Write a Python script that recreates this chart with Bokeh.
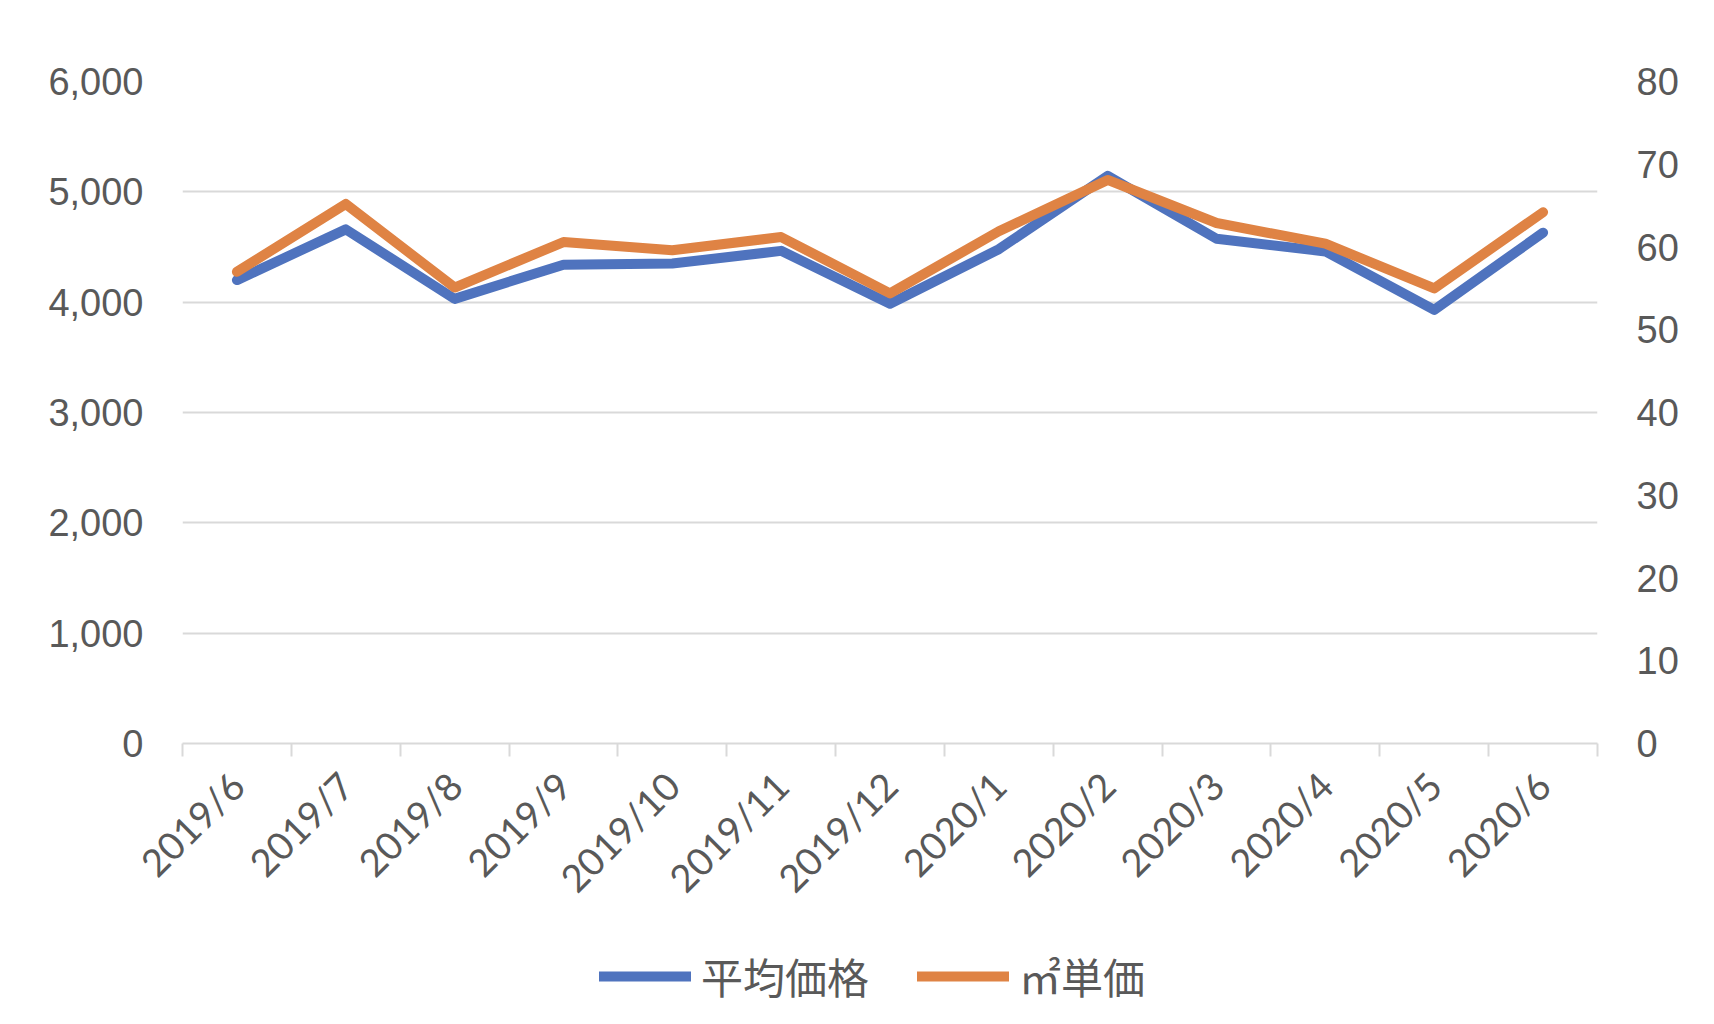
from math import pi
from bokeh.plotting import figure
from bokeh.layouts import column
from bokeh.models import (Range1d, LinearAxis, FixedTicker, Legend, LegendItem,
                          NumeralTickFormatter, CustomJSTickFormatter)
from bokeh.embed import file_html
from bokeh.resources import INLINE

months = ["2019/6", "2019/7", "2019/8", "2019/9", "2019/10", "2019/11", "2019/12",
          "2020/1", "2020/2", "2020/3", "2020/4", "2020/5", "2020/6"]
avg_price = [4200, 4660, 4030, 4340, 4350, 4465, 3985, 4480, 5145, 4575, 4460, 3930, 4630]
unit_price = [57.0, 65.2, 55.1, 60.6, 59.6, 61.2, 54.4, 61.9, 68.1, 62.9, 60.4, 55.0, 64.2]
left_ticks = [0, 1000, 2000, 3000, 4000, 5000, 6000]
right_ticks = [0, 10, 20, 30, 40, 50, 60, 70, 80]
series_names = ["平均価格", "㎡単価"]

BLUE = "#4F73BE"
ORANGE = "#DF8344"
GRID = "#d9d9d9"
TEXT = "#595959"

x_pos = [i + 0.5 for i in range(len(months))]

MAIN_H = 930
FRAME_LEFT = 182
p = figure(width=1714, height=MAIN_H, output_backend="svg", toolbar_location=None,
           x_range=Range1d(0, len(months)), y_range=Range1d(left_ticks[0], left_ticks[-1]),
           min_border_left=FRAME_LEFT, min_border_right=117, min_border_top=81,
           min_border_bottom=MAIN_H - 743)
p.extra_y_ranges = {"unit": Range1d(right_ticks[0], right_ticks[-1])}
p.outline_line_color = None
p.background_fill_color = "white"
p.border_fill_color = "white"

# left axis
ya = p.yaxis[0]
ya.ticker = FixedTicker(ticks=left_ticks)
ya.formatter = NumeralTickFormatter(format="0,0")
ya.axis_line_color = None
ya.major_tick_line_color = None
ya.minor_tick_line_color = None
ya.major_tick_out = 0
ya.major_tick_in = 0
ya.major_label_standoff = 39
ya.major_label_text_font = "Liberation Sans"
ya.major_label_text_font_size = "38px"
ya.major_label_text_color = TEXT

# right axis
ra = LinearAxis(y_range_name="unit", ticker=FixedTicker(ticks=right_ticks))
ra.axis_line_color = None
ra.major_tick_line_color = None
ra.minor_tick_line_color = None
ra.major_tick_out = 0
ra.major_tick_in = 0
ra.major_label_standoff = 39
ra.major_label_text_font = "Liberation Sans"
ra.major_label_text_font_size = "38px"
ra.major_label_text_color = TEXT
p.add_layout(ra, "right")

# x axis (ticks at category boundaries, labels at centers)
xa = p.xaxis[0]
xa.ticker = FixedTicker(ticks=x_pos, minor_ticks=list(range(len(months) + 1)))
xa.formatter = CustomJSTickFormatter(args=dict(labels=months),
                                     code="return labels[Math.floor(tick)] || ''")
xa.axis_line_color = GRID
xa.axis_line_width = 2
xa.major_tick_line_color = None
xa.major_tick_out = 0
xa.major_tick_in = 0
xa.minor_tick_line_color = GRID
xa.minor_tick_line_width = 2
xa.minor_tick_out = 13
xa.minor_tick_in = 0
xa.major_label_orientation = pi / 4
xa.major_label_standoff = 22
xa.major_label_text_font = "Lato"
xa.major_label_text_font_size = "38px"
xa.major_label_text_color = TEXT

p.xgrid.visible = False
p.ygrid.ticker = FixedTicker(ticks=left_ticks[1:])
p.ygrid.grid_line_color = GRID
p.ygrid.grid_line_width = 2

line_kw = dict(line_width=10, line_cap="round", line_join="round")
p.line(x_pos, avg_price, line_color=BLUE, **line_kw)
p.line(x_pos, unit_price, y_range_name="unit", line_color=ORANGE, **line_kw)

# legend strip below the chart (its frame is aligned with the chart's frame)
LEG_H = 1024 - MAIN_H
lg = figure(width=1714, height=LEG_H, output_backend="svg", toolbar_location=None,
            min_border=0, x_axis_location=None, y_axis_location=None)
lg.outline_line_color = None
lg.grid.visible = False
lg.background_fill_color = "white"
lg.border_fill_color = "white"
k1 = lg.line(x_pos, avg_price, line_color=BLUE, visible=False, **line_kw)
k2 = lg.line(x_pos, unit_price, line_color=ORANGE, visible=False, **line_kw)

legend = Legend(items=[LegendItem(label=series_names[0], renderers=[k1]),
                       LegendItem(label=series_names[1], renderers=[k2])],
                orientation="horizontal", location=(599 - FRAME_LEFT, 18))
legend.label_text_font = "Noto Sans CJK JP"
legend.label_text_font_size = "42px"
legend.label_text_color = TEXT
legend.glyph_width = 92
legend.glyph_height = 40
legend.label_height = 40
legend.label_standoff = 10
legend.spacing = 48
legend.padding = 0
legend.margin = 0
legend.border_line_color = None
legend.background_fill_alpha = 0
legend.inactive_fill_alpha = 0
lg.add_layout(legend)

layout = column(p, lg, spacing=0)
open("out.html", "w").write(file_html(layout, INLINE))
